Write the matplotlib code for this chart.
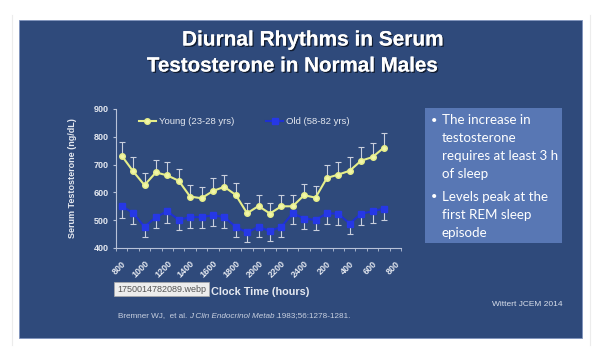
import numpy as np
import matplotlib.pyplot as plt
from matplotlib.patches import Rectangle
from matplotlib.lines import Line2D
import matplotlib.patheffects as pe

# Data (ng/dL), hourly from 0800 to 0700 next day
clock_labels = ['800', '1000', '1200', '1400', '1600', '1800', '2000',
                '2200', '2400', '200', '400', '600', '800']
young = [732, 676, 626, 672, 661, 642, 585, 579, 605, 620, 591, 525,
         551, 524, 550, 550, 590, 581, 652, 664, 678, 714, 727, 761]
young_err = [50, 50, 43, 46, 48, 43, 43, 41, 45, 42, 42, 38,
             39, 39, 40, 40, 42, 42, 46, 46, 48, 50, 52, 54]
old = [551, 526, 476, 511, 532, 501, 511, 511, 518, 511, 476, 456,
       476, 461, 476, 525, 506, 501, 525, 523, 488, 523, 532, 542]
old_err = [42, 41, 36, 38, 41, 37, 38, 38, 39, 38, 36, 34,
           36, 36, 36, 40, 39, 37, 40, 41, 36, 41, 41, 42]

W, H = 600, 357
SLIDE = '#2F4A7B'
BOX = '#5877B4'
TXT = '#E4E8F0'

def fx(x):
    return x / W

def fy(y):
    return 1 - y / H

fig = plt.figure(figsize=(6, 3.57), dpi=100)
fig.patch.set_facecolor('white')

# faint page edges + the slide itself
for xx in (12, 590):
    fig.add_artist(Line2D([fx(xx), fx(xx)], [fy(15), fy(345)], color='#ECECEC',
                          lw=0.8, zorder=-2))
fig.add_artist(Rectangle((fx(19), fy(338)), fx(582 - 19), (338 - 20) / H,
                         transform=fig.transFigure, facecolor=SLIDE,
                         edgecolor='#7F93BD', lw=0.6, zorder=-1))

# title
shadow = [pe.withSimplePatchShadow(offset=(1, -1), shadow_rgbFace='black', alpha=0.6), pe.Normal()]
fig.text(fx(313), fy(40), 'Diurnal Rhythms in Serum', ha='center', va='center',
         color='white', fontsize=15, fontweight='bold', family='Liberation Sans',
         path_effects=shadow)
fig.text(fx(292), fy(66), 'Testosterone in Normal Males', ha='center', va='center',
         color='white', fontsize=14.8, fontweight='bold', family='Liberation Sans',
         path_effects=shadow)

# chart
ax = fig.add_axes([fx(116), fy(248), fx(401 - 116), (248 - 109) / H])
ax.set_zorder(2)
ax.set_facecolor('none')
x = np.arange(len(young))
ax.errorbar(x, young, yerr=[np.zeros(len(young)), young_err], fmt='none',
            ecolor='#C9CFDD', elinewidth=0.8, capsize=2, capthick=0.8)
ax.errorbar(x, old, yerr=[old_err, np.zeros(len(old))], fmt='none',
            ecolor='#C9CFDD', elinewidth=0.8, capsize=2, capthick=0.8)
ax.plot(x, young, color='#E6EE8A', lw=1.5, marker='o', ms=4,
        mfc='#F2F6A8', mec='#E6EE8A', label='Young (23-28 yrs)')
ax.plot(x, old, color='#1E30D2', lw=1.5, marker='s', ms=4.2,
        mfc='#2638E6', mec='#2638E6', label='Old (58-82 yrs)')

ax.set_xlim(-0.5, 24.5)
ax.set_ylim(400, 900)
ax.set_yticks(range(400, 901, 100))
ax.set_xticks(np.arange(0, 25, 2))
ax.set_xticklabels(clock_labels, rotation=45, ha='right', va='top',
                   rotation_mode='anchor')
ax.set_xticks(np.arange(-0.5, 25, 1), minor=True)
for s in ('top', 'right'):
    ax.spines[s].set_visible(False)
for s in ('left', 'bottom'):
    ax.spines[s].set_color('#B8C2D8')
    ax.spines[s].set_linewidth(0.8)
ax.tick_params(axis='x', which='major', length=0, pad=8, labelsize=6.5, labelcolor=TXT)
ax.tick_params(axis='x', which='minor', length=2.5, direction='out', color='#B8C2D8')
ax.tick_params(axis='y', length=2.5, direction='out', color='#B8C2D8',
               labelsize=6.5, labelcolor=TXT, pad=3)
for lab in ax.get_xticklabels() + ax.get_yticklabels():
    lab.set_fontweight('bold')
    lab.set_family('Liberation Sans')

ax.set_ylabel('Serum Testosterone (ng/dL)', fontsize=6.5, fontweight='bold',
              color=TXT, family='Liberation Sans', labelpad=12)
leg = ax.legend(loc='upper left', bbox_to_anchor=(0.05, 1.0), ncol=2, frameon=False,
                handlelength=1.8, handletextpad=0.3, columnspacing=3.4,
                prop={'family': 'Liberation Sans', 'size': 6.8})
for t in leg.get_texts():
    t.set_color(TXT)

fig.text(fx(260), fy(292), 'Clock Time (hours)', ha='center', va='center',
         color=TXT, fontsize=7.8, fontweight='bold', family='Liberation Sans')

# screenshot file-name tooltip
fig.text(fx(117), fy(289), '1750014782089.webp', ha='left', va='center',
         color='#555555', fontsize=6.5, family='Liberation Sans', zorder=5,
         bbox=dict(boxstyle='square,pad=0.3', fc='#EDEDED', ec='#AAAAAA', lw=0.5))

# citation, pieced together so the italic journal name sits inline
renderer = fig.canvas.get_renderer()
cx = fx(118)
for piece, st in [('Bremner WJ,  et al. ', 'normal'),
                  ('J Clin Endocrinol Metab', 'italic'),
                  ('.1983;56:1278-1281.', 'normal')]:
    t = fig.text(cx, fy(316), piece, ha='left', va='center', color='#C8D0E0',
                 fontsize=5.9, style=st, family='Liberation Sans')
    bb = t.get_window_extent(renderer=renderer)
    cx += bb.width / W
fig.text(fx(562), fy(305), 'Wittert JCEM 2014', ha='right', va='center',
         color='#D8DEEA', fontsize=6.0, family='Liberation Sans')

# side text box
fig.add_artist(Rectangle((fx(425), fy(243)), fx(562 - 425), (243 - 108) / H,
                         transform=fig.transFigure, facecolor=BOX, edgecolor='none'))
bullets = [['The increase in', 'testosterone', 'requires at least 3 h', 'of sleep'],
           ['Levels peak at the', 'first REM sleep', 'episode']]
ys = [[120, 138, 156, 174], [197, 215, 233]]
for lines, yy in zip(bullets, ys):
    fig.text(fx(431), fy(yy[0]), '\u2022', ha='left', va='center', color='white',
             fontsize=8, family='Lato')
    for ln, y0 in zip(lines, yy):
        fig.text(fx(442), fy(y0), ln, ha='left', va='center', color='white',
                 fontsize=9.6, family='Lato')

fig.savefig('out.png', dpi=100, facecolor='white')
